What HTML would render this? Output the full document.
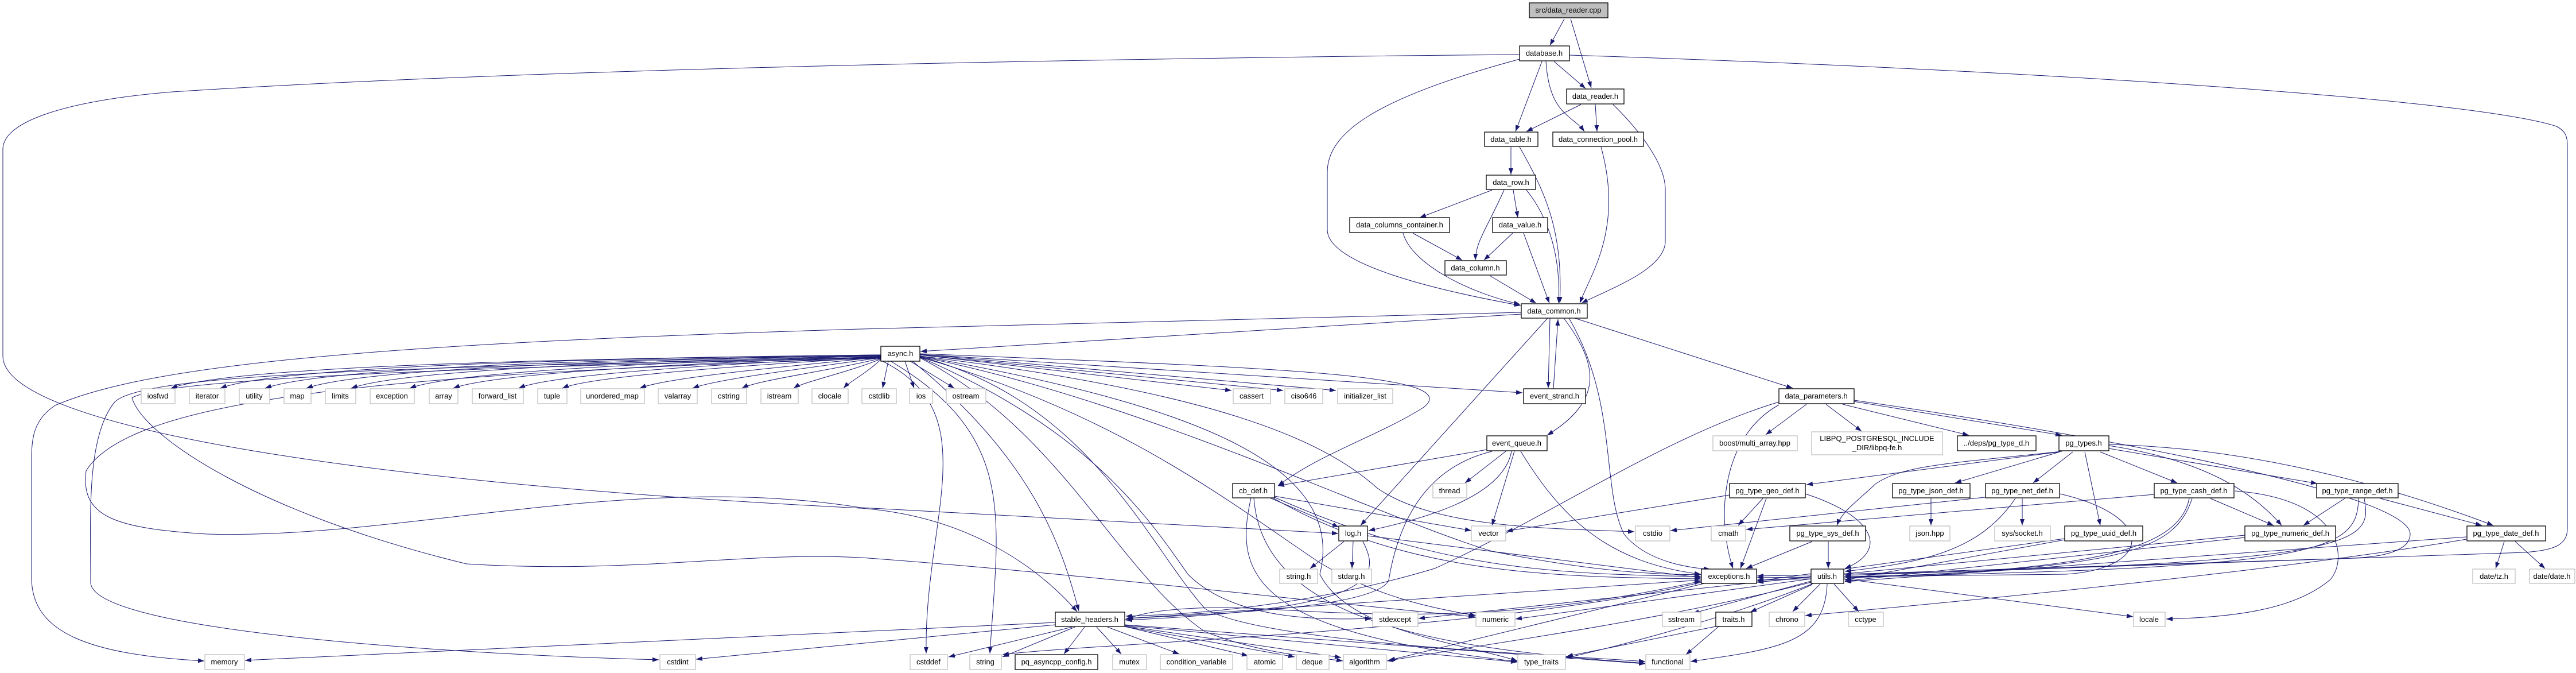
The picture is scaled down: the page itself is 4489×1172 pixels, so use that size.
<!DOCTYPE html>
<html><head><meta charset="utf-8"><style>
html,body{margin:0;padding:0;background:#fff;}
svg{display:block;}
text{font-family:"Liberation Sans",sans-serif;font-size:13px;fill:#000;text-anchor:middle;}
.s rect{fill:#fff;stroke:#bfbfbf;stroke-width:1.3;}
.p rect{fill:#fff;stroke:#000;stroke-width:1.3;}
.e path{fill:none;stroke:#191970;stroke-width:1;marker-end:url(#a);}
</style></head><body>
<svg width="4489" height="1172" viewBox="0 0 4489 1172" xmlns="http://www.w3.org/2000/svg">
<defs><marker id="a" markerUnits="userSpaceOnUse" markerWidth="12" markerHeight="8" refX="11" refY="4" orient="auto"><path d="M0,0 L11,4 L0,8 z" fill="#191970"/></marker></defs>
<g class="e">
<!-- top -->
<path d="M2726,33 L2701,79"/>
<path d="M2737,33 L2773,153"/>
<path d="M2648,95 C2100,100 1000,115 300,160 C120,175 5,210 5,260 L5,620 C5,740 600,840 1500,885 C1700,900 1820,1000 1877,1065"/>
<path d="M2735,96 C3500,120 4300,170 4455,220 C4474,230 4474,241 4474,260 L4474,920 C4474,950 4450,958 4400,962 L3215,1002"/>
<path d="M2708,107 L2763,154"/>
<path d="M2687,107 L2641,229"/>
<path d="M2694,107 C2700,200 2740,200 2761,229"/>
<path d="M2648,103 C2400,170 2313,230 2313,300 L2313,400 C2313,460 2500,505 2650,532"/>
<path d="M2755,182 L2660,229"/>
<path d="M2780,182 L2783,229"/>
<path d="M2811,182 C2860,230 2902,287 2902,330 L2902,420 C2902,470 2800,505 2756,528"/>
<path d="M2633,256 L2633,304"/>
<path d="M2648,256 C2690,330 2725,400 2718,528"/>
<path d="M2790,256 C2830,400 2770,480 2753,528"/>
<path d="M2600,331 L2474,379"/>
<path d="M2621,331 C2590,400 2572,420 2571,453"/>
<path d="M2637,331 L2645,379"/>
<path d="M2660,331 C2700,380 2720,450 2716,528"/>
<path d="M2462,406 L2548,453"/>
<path d="M2445,406 C2460,460 2560,510 2649,530"/>
<path d="M2636,406 L2586,453"/>
<path d="M2655,406 L2700,528"/>
<path d="M2596,480 L2677,528"/>
<!-- data_common -->
<path d="M2651,544 L1500,573 C600,600 250,640 96,706 C60,730 55,760 55,800 L55,1006 C55,1100 150,1140 356,1151"/>
<path d="M2651,547 L1604,612"/>
<path d="M2701,554 L2698,676"/>
<path d="M2707,677 L2715,556"/>
<path d="M2725,554 C2790,640 2790,700 2696,758"/>
<path d="M2697,554 L2371,915"/>
<path d="M2734,554 C2820,700 2790,850 2830,930 C2870,980 2950,990 2980,991"/>
<path d="M2744,554 L3124,676"/>
<!-- async fan left -->
<path d="M1535,618 C900,625 400,640 298,676"/>
<path d="M1535,618 C950,625 480,640 384,676"/>
<path d="M1535,619 C1000,626 560,642 462,676"/>
<path d="M1535,619 C1050,627 630,643 534,676"/>
<path d="M1535,620 C1100,628 700,645 612,676"/>
<path d="M1535,620 C1150,630 790,648 714,676"/>
<path d="M1535,621 C1200,632 860,650 790,676"/>
<path d="M1535,621 C1250,634 960,652 904,676"/>
<path d="M1535,622 C1300,636 1030,655 980,676"/>
<path d="M1535,622 C1350,640 1160,658 1115,676"/>
<path d="M1535,623 C1400,642 1250,660 1207,676"/>
<path d="M1535,624 C1450,645 1320,662 1293,676"/>
<path d="M1535,625 C1480,648 1400,665 1383,676"/>
<path d="M1535,626 C1510,650 1480,665 1470,676"/>
<path d="M1548,629 L1538,676"/>
<path d="M1577,629 L1593,676"/>
<path d="M1586,629 L1663,676"/>
<path d="M1603,618 L2146,680"/>
<path d="M1603,618 L2236,680"/>
<path d="M1603,617 L2328,680"/>
<path d="M1603,617 L2653,684"/>
<path d="M1603,616 C2200,640 2560,650 2480,710 C2400,760 2300,790 2227,846"/>
<!-- async long curves -->
<path d="M1535,622 C700,640 250,650 200,700 C150,760 158,900 158,1014 C158,1100 800,1140 1148,1149"/>
<path d="M1535,623 C800,640 280,660 230,693 C250,760 450,894 813,982 C1100,1000 1300,960 1500,971 C1900,1000 2300,1050 2570,1074"/>
<path d="M1535,624 C700,650 230,690 150,820 C140,900 200,920 360,930 C700,940 1100,820 1500,884 L2332,929"/>
<path d="M1538,629 C1720,720 1610,900 1614,1138"/>
<path d="M1552,629 C1773,760 1740,900 1725,1138"/>
<path d="M1590,629 C1800,800 1850,950 1880,1064"/>
<path d="M1603,622 C1900,750 2000,900 2070,1000 C2150,1080 2300,1080 2390,1077"/>
<path d="M1603,622 C1950,720 2150,880 2300,980 C2400,1040 2500,1060 2572,1072"/>
<path d="M1603,621 C2000,700 2400,900 2600,960 C2800,1000 2900,1000 2964,1001"/>
<path d="M1603,620 C2100,680 2300,760 2400,850 C2500,920 2700,920 2848,926"/>
<path d="M1603,620 C2050,700 2350,800 2300,1000 C2350,1100 2550,1120 2644,1151"/>
<path d="M1603,621 C1900,700 2000,950 2100,1060 C2200,1120 2700,1140 2867,1152"/>
<path d="M1603,623 C1850,750 1950,1000 2100,1100 C2200,1140 2300,1145 2340,1151"/>
<!-- event_queue -->
<path d="M2591,783 L2227,846"/>
<path d="M2624,786 L2553,841"/>
<path d="M2639,786 L2600,915"/>
<path d="M2634,786 C2620,860 2500,900 2385,924"/>
<path d="M2650,786 C2720,900 2800,980 2964,1000"/>
<path d="M2600,786 C2460,820 2430,950 2420,1010 C2400,1060 2100,1070 1962,1077"/>
<!-- cb_def -->
<path d="M2213,867 L2333,918"/>
<path d="M2221,864 L2564,924"/>
<path d="M2221,866 C2500,990 2700,1000 2964,1004"/>
<path d="M2218,867 C2450,1000 2700,1005 2964,1008"/>
<path d="M2180,867 C2150,1000 2180,1100 2644,1152"/>
<path d="M2185,867 C2200,1080 2500,1130 2867,1155"/>
<!-- log.h -->
<path d="M2342,943 L2283,990"/>
<path d="M2358,943 L2356,990"/>
<path d="M2383,933 L2964,1006"/>
<path d="M2375,943 C2410,1010 2390,1060 1962,1080"/>
<!-- stable_headers -->
<path d="M1868,1092 L1653,1144"/>
<path d="M1873,1092 L1747,1144"/>
<path d="M1890,1092 L1854,1139"/>
<path d="M1911,1092 L1954,1139"/>
<path d="M1930,1092 L2055,1139"/>
<path d="M1960,1091 L2175,1142"/>
<path d="M1960,1091 L2256,1144"/>
<path d="M1960,1090 L2337,1145"/>
<path d="M1960,1089 L2644,1153"/>
<path d="M1960,1088 L2867,1156"/>
<path d="M1839,1084 L427,1150"/>
<path d="M1839,1088 L1213,1148"/>
<path d="M1960,1080 C2000,1060 2100,1055 2200,1060 C2500,1080 2700,1070 2964,1012" />
<!-- exceptions -->
<path d="M2965,1010 L1964,1077"/>
<path d="M2970,1016 L2420,1150"/>
<path d="M2965,1014 C2600,1100 1900,1120 1747,1140"/>
<!-- traits -->
<path d="M2990,1091 L2730,1143"/>
<path d="M2995,1091 L2938,1140"/>
<!-- utils -->
<path d="M3172,1017 L3124,1065"/>
<path d="M3196,1017 L3239,1065"/>
<path d="M3213,1008 L3717,1074"/>
<path d="M3158,1018 L3050,1066"/>
<path d="M3184,1017 C3180,1120 3100,1130 2946,1152"/>
<path d="M3156,1004 L2472,1077"/>
<path d="M3156,1008 L2641,1078"/>
<path d="M3156,1012 L2950,1068"/>
<path d="M3160,1016 C3000,1080 2800,1130 2728,1146"/>
<path d="M3156,1014 C2900,1080 2600,1120 2417,1151"/>
<!-- data_parameters -->
<path d="M3148,704 L3077,757"/>
<path d="M3182,704 L3244,751"/>
<path d="M3211,704 L3431,758"/>
<path d="M3230,699 L3593,758"/>
<path d="M3231,697 C3800,780 4200,870 4200,930 C4200,960 4150,970 4100,972 L3215,1000"/>
<path d="M3100,700 C2900,760 2700,900 2500,990 C2300,1050 2100,1070 1962,1073"/>
<path d="M3100,705 C3000,760 2990,900 3020,990"/>
<!-- pg_types -->
<path d="M3588,787 L3148,844"/>
<path d="M3593,786 C3411,806 3316,809 3268,843 C3240,870 3210,890 3201,915"/>
<path d="M3589,787 L3407,841"/>
<path d="M3612,787 L3543,841"/>
<path d="M3633,787 L3660,915"/>
<path d="M3660,787 L3794,841"/>
<path d="M3675,781 L4038,842"/>
<path d="M3675,776 C3830,800 3920,850 3976,915"/>
<path d="M3675,774 C3950,780 4200,860 4345,915"/>
<!-- geo -->
<path d="M3072,868 L3029,915"/>
<path d="M3078,868 L3033,990"/>
<path d="M3146,860 C3270,900 3290,960 3215,990"/>
<path d="M3014,862 L2625,925"/>
<!-- json/net -->
<path d="M3365,868 L3365,915"/>
<path d="M3524,868 L3524,915"/>
<path d="M3512,868 C3450,960 3350,980 3215,995"/>
<path d="M3590,860 C3760,900 3750,990 3600,1000 L3062,1006"/>
<path d="M3459,866 L2911,924"/>
<!-- cash -->
<path d="M3754,861 L3043,922"/>
<path d="M3852,868 L3962,915"/>
<path d="M3820,868 C3790,960 3700,990 3215,1006"/>
<path d="M3815,868 C3795,970 3600,1000 3062,1010"/>
<path d="M3895,855 C4090,870 4090,980 4060,1010 C4000,1060 3900,1075 3775,1078"/>
<!-- range -->
<path d="M4086,868 L4014,915"/>
<path d="M4148,868 L4325,915"/>
<path d="M4110,868 C4108,960 4050,990 3215,1004"/>
<path d="M4120,868 C4135,950 4120,985 3062,1003"/>
<!-- others -->
<path d="M3186,943 L3186,990"/>
<path d="M3158,943 L3043,990"/>
<path d="M3598,940 L3215,1010"/>
<path d="M3598,938 L3062,1012"/>
<path d="M3912,936 L3215,1012"/>
<path d="M3912,932 L3062,1014"/>
<path d="M4364,943 L4349,990"/>
<path d="M4383,943 L4435,990"/>
<path d="M4298,935 L3215,1013"/>
<path d="M4298,939 C4000,990 3500,1040 3146,1072"/>
</g>
<!-- nodes -->
<g class="p"><rect x="2665" y="5" width="137" height="26" style="fill:#bfbfbf"/><text x="2733" y="22">src/data_reader.cpp</text></g>
<g class="p"><rect x="2648" y="80" width="87" height="26"/><text x="2691" y="97">database.h</text></g>
<g class="p"><rect x="2730" y="155" width="100" height="26"/><text x="2780" y="172">data_reader.h</text></g>
<g class="p"><rect x="2587" y="230" width="93" height="25"/><text x="2633" y="247">data_table.h</text></g>
<g class="p"><rect x="2706" y="230" width="158" height="25"/><text x="2785" y="247">data_connection_pool.h</text></g>
<g class="p"><rect x="2590" y="305" width="86" height="25"/><text x="2633" y="322">data_row.h</text></g>
<g class="p"><rect x="2352" y="379" width="174" height="26"/><text x="2439" y="396">data_columns_container.h</text></g>
<g class="p"><rect x="2601" y="379" width="96" height="26"/><text x="2649" y="396">data_value.h</text></g>
<g class="p"><rect x="2518" y="454" width="107" height="25"/><text x="2571" y="471">data_column.h</text></g>
<g class="p"><rect x="2651" y="529" width="115" height="25"/><text x="2708" y="546">data_common.h</text></g>
<g class="p"><rect x="1535" y="603" width="68" height="26"/><text x="1569" y="620">async.h</text></g>
<g class="p"><rect x="2655" y="677" width="108" height="26"/><text x="2709" y="694">event_strand.h</text></g>
<g class="p"><rect x="2591" y="759" width="105" height="26"/><text x="2643" y="776">event_queue.h</text></g>
<g class="p"><rect x="2148" y="842" width="73" height="25"/><text x="2184" y="859">cb_def.h</text></g>
<g class="p"><rect x="2333" y="916" width="50" height="26"/><text x="2358" y="933">log.h</text></g>
<g class="p"><rect x="2965" y="991" width="96" height="25"/><text x="3013" y="1008">exceptions.h</text></g>
<g class="p"><rect x="1839" y="1066" width="121" height="25"/><text x="1899" y="1083">stable_headers.h</text></g>
<g class="p"><rect x="2990" y="1066" width="63" height="25"/><text x="3021" y="1083">traits.h</text></g>
<g class="p"><rect x="1769" y="1140" width="144" height="26"/><text x="1841" y="1157">pq_asyncpp_config.h</text></g>
<g class="p"><rect x="3100" y="677" width="131" height="26"/><text x="3165" y="694">data_parameters.h</text></g>
<g class="p"><rect x="3411" y="759" width="137" height="26"/><text x="3479" y="776">../deps/pg_type_d.h</text></g>
<g class="p"><rect x="3588" y="759" width="87" height="26"/><text x="3631" y="776">pg_types.h</text></g>
<g class="p"><rect x="3014" y="842" width="132" height="25"/><text x="3080" y="859">pg_type_geo_def.h</text></g>
<g class="p"><rect x="3298" y="842" width="135" height="25"/><text x="3365" y="859">pg_type_json_def.h</text></g>
<g class="p"><rect x="3460" y="842" width="129" height="25"/><text x="3524" y="859">pg_type_net_def.h</text></g>
<g class="p"><rect x="3754" y="842" width="139" height="25"/><text x="3823" y="859">pg_type_cash_def.h</text></g>
<g class="p"><rect x="4037" y="842" width="142" height="25"/><text x="4108" y="859">pg_type_range_def.h</text></g>
<g class="p"><rect x="3119" y="916" width="132" height="26"/><text x="3185" y="933">pg_type_sys_def.h</text></g>
<g class="p"><rect x="3598" y="916" width="136" height="26"/><text x="3666" y="933">pg_type_uuid_def.h</text></g>
<g class="p"><rect x="3912" y="916" width="158" height="26"/><text x="3991" y="933">pg_type_numeric_def.h</text></g>
<g class="p"><rect x="4299" y="916" width="137" height="26"/><text x="4367" y="933">pg_type_date_def.h</text></g>
<g class="p"><rect x="3156" y="991" width="57" height="25"/><text x="3184" y="1008">utils.h</text></g>

<g class="s"><rect x="246" y="677" width="59" height="26"/><text x="275" y="694">iosfwd</text></g>
<g class="s"><rect x="330" y="677" width="62" height="26"/><text x="361" y="694">iterator</text></g>
<g class="s"><rect x="417" y="677" width="53" height="26"/><text x="443" y="694">utility</text></g>
<g class="s"><rect x="495" y="677" width="47" height="26"/><text x="518" y="694">map</text></g>
<g class="s"><rect x="567" y="677" width="53" height="26"/><text x="593" y="694">limits</text></g>
<g class="s"><rect x="645" y="677" width="77" height="26"/><text x="683" y="694">exception</text></g>
<g class="s"><rect x="748" y="677" width="50" height="26"/><text x="773" y="694">array</text></g>
<g class="s"><rect x="823" y="677" width="89" height="26"/><text x="867" y="694">forward_list</text></g>
<g class="s"><rect x="937" y="677" width="51" height="26"/><text x="962" y="694">tuple</text></g>
<g class="s"><rect x="1012" y="677" width="111" height="26"/><text x="1067" y="694">unordered_map</text></g>
<g class="s"><rect x="1147" y="677" width="68" height="26"/><text x="1181" y="694">valarray</text></g>
<g class="s"><rect x="1240" y="677" width="61" height="26"/><text x="1270" y="694">cstring</text></g>
<g class="s"><rect x="1326" y="677" width="65" height="26"/><text x="1358" y="694">istream</text></g>
<g class="s"><rect x="1415" y="677" width="63" height="26"/><text x="1446" y="694">clocale</text></g>
<g class="s"><rect x="1502" y="677" width="60" height="26"/><text x="1532" y="694">cstdlib</text></g>
<g class="s"><rect x="1585" y="677" width="40" height="26"/><text x="1605" y="694">ios</text></g>
<g class="s"><rect x="1649" y="677" width="69" height="26"/><text x="1683" y="694">ostream</text></g>
<g class="s"><rect x="2149" y="677" width="65" height="26"/><text x="2181" y="694">cassert</text></g>
<g class="s"><rect x="2239" y="677" width="66" height="26"/><text x="2272" y="694">ciso646</text></g>
<g class="s"><rect x="2331" y="677" width="96" height="26"/><text x="2379" y="694">initializer_list</text></g>
<g class="s"><rect x="2497" y="842" width="59" height="25"/><text x="2526" y="859">thread</text></g>
<g class="s"><rect x="2564" y="916" width="60" height="26"/><text x="2594" y="933">vector</text></g>
<g class="s"><rect x="2850" y="916" width="60" height="26"/><text x="2880" y="933">cstdio</text></g>
<g class="s"><rect x="2982" y="916" width="60" height="26"/><text x="3012" y="933">cmath</text></g>
<g class="s"><rect x="2230" y="991" width="66" height="25"/><text x="2263" y="1008">string.h</text></g>
<g class="s"><rect x="2321" y="991" width="69" height="25"/><text x="2355" y="1008">stdarg.h</text></g>
<g class="s"><rect x="2392" y="1066" width="79" height="25"/><text x="2431" y="1083">stdexcept</text></g>
<g class="s"><rect x="2572" y="1066" width="68" height="25"/><text x="2606" y="1083">numeric</text></g>
<g class="s"><rect x="2897" y="1066" width="67" height="25"/><text x="2930" y="1083">sstream</text></g>
<g class="s"><rect x="357" y="1140" width="69" height="26"/><text x="391" y="1157">memory</text></g>
<g class="s"><rect x="1150" y="1140" width="62" height="26"/><text x="1181" y="1157">cstdint</text></g>
<g class="s"><rect x="1586" y="1140" width="65" height="26"/><text x="1618" y="1157">cstddef</text></g>
<g class="s"><rect x="1690" y="1140" width="55" height="26"/><text x="1717" y="1157">string</text></g>
<g class="s"><rect x="1939" y="1140" width="59" height="26"/><text x="1968" y="1157">mutex</text></g>
<g class="s"><rect x="2022" y="1140" width="126" height="26"/><text x="2085" y="1157">condition_variable</text></g>
<g class="s"><rect x="2173" y="1140" width="62" height="26"/><text x="2204" y="1157">atomic</text></g>
<g class="s"><rect x="2259" y="1140" width="57" height="26"/><text x="2287" y="1157">deque</text></g>
<g class="s"><rect x="2341" y="1140" width="75" height="26"/><text x="2378" y="1157">algorithm</text></g>
<g class="s"><rect x="2645" y="1140" width="83" height="26"/><text x="2686" y="1157">type_traits</text></g>
<g class="s"><rect x="2868" y="1140" width="77" height="26"/><text x="2906" y="1157">functional</text></g>
<g class="s"><rect x="2985" y="759" width="147" height="26"/><text x="3058" y="776">boost/multi_array.hpp</text></g>
<g class="s"><rect x="3157" y="752" width="228" height="40"/><text x="3271" y="768">LIBPQ_POSTGRESQL_INCLUDE</text><text x="3271" y="784">_DIR/libpq-fe.h</text></g>
<g class="s"><rect x="3328" y="916" width="70" height="26"/><text x="3363" y="933">json.hpp</text></g>
<g class="s"><rect x="3476" y="916" width="97" height="26"/><text x="3524" y="933">sys/socket.h</text></g>
<g class="s"><rect x="4309" y="991" width="74" height="25"/><text x="4346" y="1008">date/tz.h</text></g>
<g class="s"><rect x="4408" y="991" width="79" height="25"/><text x="4447" y="1008">date/date.h</text></g>
<g class="s"><rect x="3083" y="1066" width="62" height="25"/><text x="3114" y="1083">chrono</text></g>
<g class="s"><rect x="3221" y="1066" width="61" height="25"/><text x="3251" y="1083">cctype</text></g>
<g class="s"><rect x="3718" y="1066" width="55" height="25"/><text x="3745" y="1083">locale</text></g>
</svg>
</body></html>
